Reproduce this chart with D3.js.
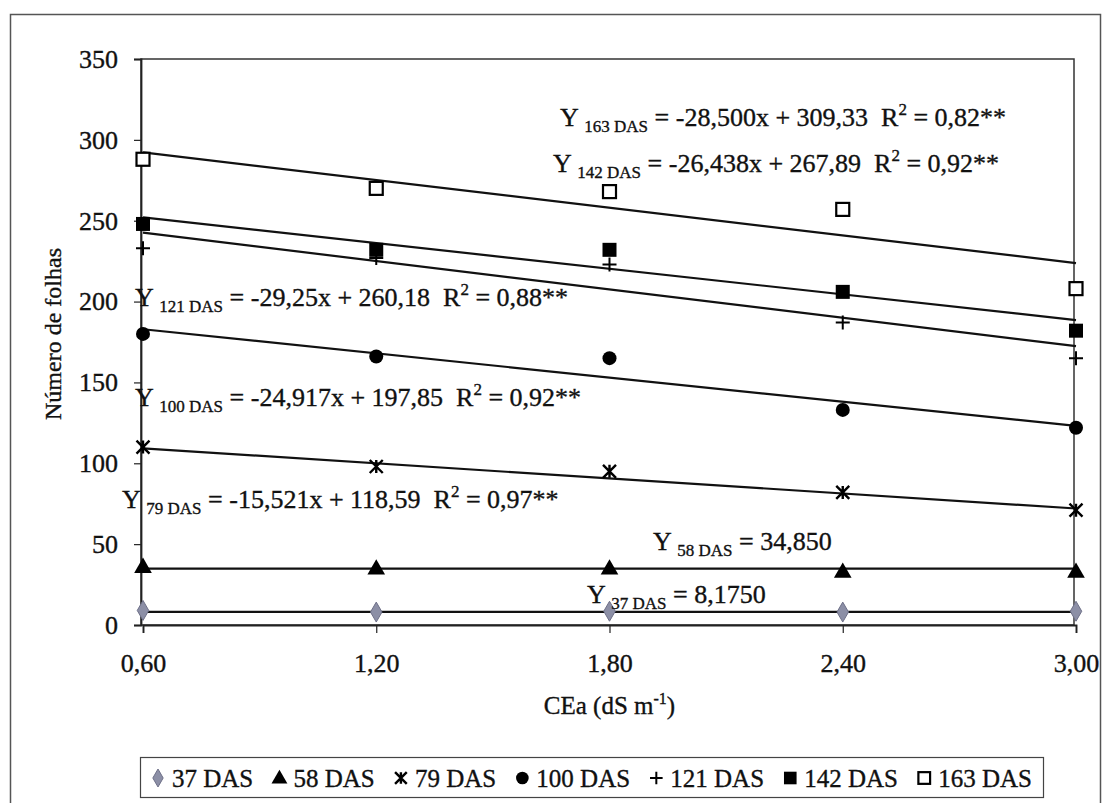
<!DOCTYPE html>
<html>
<head>
<meta charset="utf-8">
<script src="https://cdn.jsdelivr.net/npm/d3@7/dist/d3.min.js"></script>
<style>
  html, body { margin: 0; padding: 0; background: #fff; }
  svg text { font-family: "Liberation Serif", "Times New Roman", Tinos, "DejaVu Serif", serif !important;
             stroke: #111; stroke-width: 0.35px; }
</style>
</head>
<body>
<svg id="chart" width="1106" height="803"></svg>
<script>
// ---------- DATA ----------
const categories = [0.60, 1.20, 1.80, 2.40, 3.00];
const categoryLabels = ["0,60", "1,20", "1,80", "2,40", "3,00"];
const yTicks = [0, 50, 100, 150, 200, 250, 300, 350];

const seriesNames = ["37 DAS", "58 DAS", "79 DAS", "100 DAS", "121 DAS", "142 DAS", "163 DAS"];
const values37  = [9, 8, 8.5, 8, 8.5];
const values58  = [36, 35, 35, 33, 33];
const values79  = [110, 98, 95, 82, 71];
const values100 = [180, 166, 165, 133, 122];
const values121 = [233, 227, 223, 187, 165];
const values142 = [248, 232, 232, 206, 182];
const values163 = [288, 270, 268, 257, 208];

// regression coefficients printed on the chart (slope, intercept)
const slopes     = [0, 0, -15.521, -24.917, -29.25, -26.438, -28.500];
const intercepts = [8.1750, 34.850, 118.59, 197.85, 260.18, 267.89, 309.33];

// equation label texts
const eqSubs  = ["37 DAS", "58 DAS", "79 DAS", "100 DAS", "121 DAS", "142 DAS", "163 DAS"];
const eqBodies = ["= 8,1750", "= 34,850", "= -15,521x + 118,59", "= -24,917x + 197,85",
                  "= -29,25x + 260,18", "= -26,438x + 267,89", "= -28,500x + 309,33"];
const eqR2 = [null, null, "0,97**", "0,92**", "0,88**", "0,92**", "0,82**"];

// ---------- LAYOUT ----------
const SERIF = "'Liberation Serif', 'Times New Roman', Tinos, 'DejaVu Serif', serif";
const svg = d3.select("#chart").attr("font-family", SERIF);
const plot = { left: 141, right: 1074, top: 59, bottom: 625 };
const FONT = 26;
const SUB = 17;
const labelPos = [ // [x, baseline y] pixel positions of equation labels
  [587, 603], [653, 550], [122, 508], [135, 406], [135, 306], [553, 172], [560, 126]
];

const x = d3.scaleLinear().domain([0.6, 3.0]).range([plot.left + 2, plot.right + 2]);
const y = d3.scaleLinear().domain([0, 350]).range([plot.bottom, plot.top]);

// outer frame
svg.append("rect").attr("x", 10.5).attr("y", 14.5).attr("width", 1090).attr("height", 800)
  .attr("fill", "none").attr("stroke", "#555").attr("stroke-width", 1.5);

// plot area border
svg.append("rect").attr("x", plot.left).attr("y", plot.top)
  .attr("width", plot.right - plot.left).attr("height", plot.bottom - plot.top)
  .attr("fill", "none").attr("stroke", "#333").attr("stroke-width", 1.5);

// y axis
const yAxis = svg.append("g").attr("transform", `translate(${plot.left},0)`)
  .call(d3.axisLeft(y).tickValues(yTicks).tickSize(7).tickPadding(16).tickFormat(d3.format("d")));
yAxis.attr("font-family", SERIF);
yAxis.select(".domain").attr("stroke", "#222").attr("stroke-width", 1.8);
yAxis.selectAll(".tick line").attr("stroke", "#222").attr("stroke-width", 1.2);
yAxis.selectAll("text").attr("font-size", FONT).attr("fill", "#111");

// x axis
const xAxis = svg.append("g").attr("transform", `translate(0,${plot.bottom})`)
  .call(d3.axisBottom(x).tickValues(categories).tickSize(8).tickPadding(21)
    .tickFormat((d, i) => categoryLabels[i]));
xAxis.attr("font-family", SERIF);
xAxis.select(".domain").attr("stroke", "#222").attr("stroke-width", 1.8);
xAxis.selectAll(".tick line").attr("stroke", "#222").attr("stroke-width", 1.2);
xAxis.selectAll("text").attr("font-size", FONT).attr("fill", "#111");

// axis titles
svg.append("text").attr("transform", `translate(61,334) rotate(-90)`)
  .attr("text-anchor", "middle").attr("font-size", 24).attr("fill", "#111").text("Número de folhas");
const xt = svg.append("text").attr("x", (plot.left + plot.right) / 2 + 2).attr("y", 714)
  .attr("text-anchor", "middle").attr("font-size", 25).attr("fill", "#111");
xt.append("tspan").text("CEa (dS m");
xt.append("tspan").attr("font-size", 16).attr("dy", -10).text("-1");
xt.append("tspan").attr("dy", 10).text(")");

// trend lines
const allValues = [values37, values58, values79, values100, values121, values142, values163];
seriesNames.forEach((s, i) => {
  const x0 = categories[0], x1 = categories[categories.length - 1];
  svg.append("line")
    .attr("x1", x(x0)).attr("y1", y(intercepts[i] + slopes[i] * x0))
    .attr("x2", x(x1)).attr("y2", y(intercepts[i] + slopes[i] * x1))
    .attr("stroke", "#111").attr("stroke-width", 2.2);
});

// markers
function drawMarker(g, i, cx, cy, scale) {
  const s = scale || 1;
  if (i === 0) {
    g.append("path").attr("d", d3.symbol(d3.symbolDiamond, 115 * s * s)())
      .attr("transform", `translate(${cx},${cy})`).attr("fill", "#8c8fa6").attr("stroke", "#6e7088").attr("stroke-width", 1);
  } else if (i === 1) {
    g.append("path").attr("d", d3.symbol(d3.symbolTriangle, 135 * s * s)())
      .attr("transform", `translate(${cx},${cy + 1})`).attr("fill", "#000");
  } else if (i === 2) {
    const r = 6.5 * s;
    g.append("path").attr("d", `M${-r},${-r}L${r},${r}M${-r},${r}L${r},${-r}M0,${-r}L0,${r}`)
      .attr("transform", `translate(${cx},${cy})`).attr("stroke", "#000").attr("stroke-width", 2.4).attr("fill", "none");
  } else if (i === 3) {
    g.append("circle").attr("cx", cx).attr("cy", cy).attr("r", 7 * s).attr("fill", "#000");
  } else if (i === 4) {
    const r = 7 * s;
    g.append("path").attr("d", `M${-r},0L${r},0M0,${-r}L0,${r}`)
      .attr("transform", `translate(${cx},${cy})`).attr("stroke", "#000").attr("stroke-width", 2).attr("fill", "none");
  } else if (i === 5) {
    const r = 7 * s;
    g.append("rect").attr("x", cx - r).attr("y", cy - r).attr("width", 2 * r).attr("height", 2 * r).attr("fill", "#000");
  } else if (i === 6) {
    const r = 6.5 * s;
    g.append("rect").attr("x", cx - r).attr("y", cy - r).attr("width", 2 * r).attr("height", 2 * r)
      .attr("fill", "#fff").attr("stroke", "#000").attr("stroke-width", 2.2);
  }
}
const mg = svg.append("g");
allValues.forEach((vals, i) => {
  vals.forEach((v, j) => drawMarker(mg, i, x(categories[j]), y(v)));
});

// equation labels
seriesNames.forEach((s, i) => {
  const t = svg.append("text").attr("x", labelPos[i][0]).attr("y", labelPos[i][1])
    .attr("font-size", FONT).attr("fill", "#111");
  t.append("tspan").text("Y ");
  t.append("tspan").attr("font-size", SUB).attr("dy", 6).text(eqSubs[i]);
  t.append("tspan").attr("dy", -6).text(" " + eqBodies[i]);
  if (eqR2[i]) {
    t.append("tspan").text("\u00a0\u00a0R");
    t.append("tspan").attr("font-size", SUB).attr("dy", -11).text("2");
    t.append("tspan").attr("dy", 11).text(" = " + eqR2[i]);
  }
});

// legend
const legend = svg.append("g");
const lgX = 140.5, lgW = 903, ly = 778;
legend.append("rect").attr("x", lgX).attr("y", 757.5).attr("width", lgW).attr("height", 40)
  .attr("fill", "#fff").attr("stroke", "#444").attr("stroke-width", 1.2);
const items = seriesNames.map((s, i) => {
  const t = legend.append("text").attr("y", ly + 9).attr("font-size", 25).attr("fill", "#111").text(s);
  return { i, t, w: t.node().getComputedTextLength() };
});
const markerW = 16, markerGap = 6;
const startX = 150, endX = 1032;
const totalContent = d3.sum(items, d => markerW + markerGap + d.w);
const gap = (endX - startX - totalContent) / (items.length - 1);
let lx = startX;
items.forEach(d => {
  drawMarker(legend, d.i, lx + markerW / 2, ly, 0.9);
  d.t.attr("x", lx + markerW + markerGap);
  lx += markerW + markerGap + d.w + gap;
});
</script>
</body>
</html>
